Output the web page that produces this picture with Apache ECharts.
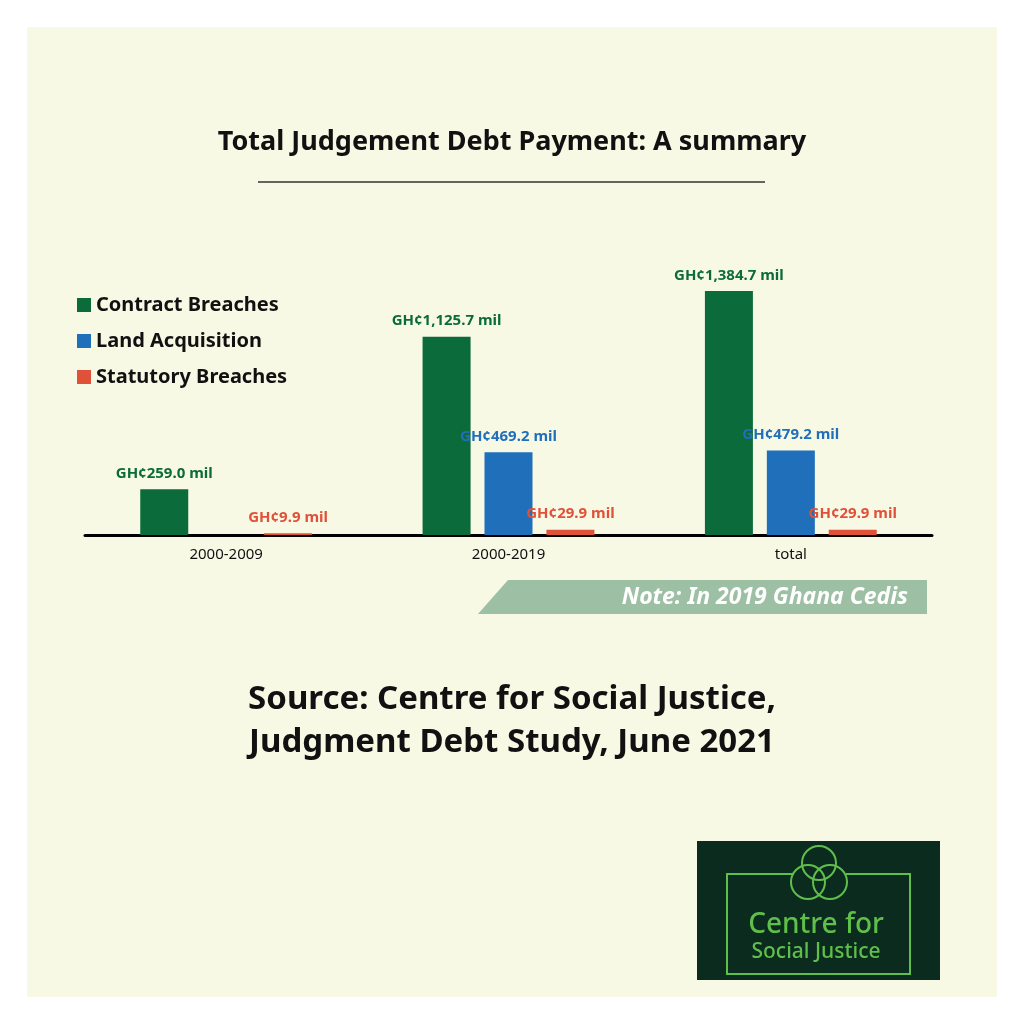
<!DOCTYPE html>
<html><head><meta charset="utf-8">
<script src="https://cdn.jsdelivr.net/npm/echarts@6/dist/echarts.min.js"></script>
<style>html,body{margin:0;padding:0;background:#fff}#c{width:1024px;height:1024px}</style>
</head><body><div id="c"></div>
<script>
const categories = ['2000-2009', '2000-2019', 'total'];
const contractBreaches = [259.0, 1125.7, 1384.7];
const landAcquisition = [null, 469.2, 479.2];
const statutoryBreaches = [9.9, 29.9, 29.9];
const seriesNames = ['Contract Breaches', 'Land Acquisition', 'Statutory Breaches'];
const colors = ['#0b6b3a', '#1f6fba', '#e0513a'];

const chart = echarts.init(document.getElementById('c'));
const FONT = '"Noto Sans", sans-serif';
function fmt(v){
  const s = v.toFixed(1).replace(/\B(?=(\d{3})+(?!\d))/g, ',');
  return 'GH¢' + s + ' mil';
}
function mk(name, data, color){
  return {
    name, type: 'bar', data, barWidth: 48, barGap: '29%',
    itemStyle: { color },
    label: { show: true, position: 'top', distance: 8, color, fontFamily: FONT, fontWeight: 'bold', fontSize: 15,
      formatter: p => p.value == null ? '' : fmt(p.value) }
  };
}
chart.setOption({
  backgroundColor: '#ffffff',
  animation: false,
  title: { text: 'Total Judgement Debt Payment: A summary', left: 'center', top: 124,
    textStyle: { fontFamily: FONT, fontWeight: 'bold', fontSize: 27, color: '#111' } },
  legend: { orient: 'vertical', left: 72, top: 290, itemWidth: 14, itemHeight: 14, itemGap: 16, icon: 'rect',
    textStyle: { fontFamily: FONT, fontWeight: 'bold', fontSize: 20, color: '#111' }, data: seriesNames },
  grid: { left: 85, right: 92, top: 291, bottom: 489 },
  xAxis: { type: 'category', data: categories,
    axisLine: { lineStyle: { color: '#000', width: 3 } }, axisTick: { show: false },
    axisLabel: { fontFamily: FONT, fontSize: 15, color: '#111', margin: 12 } },
  yAxis: { type: 'value', min: 0, max: 1384.7, show: false, splitLine: { show: false } },
  series: [ mk(seriesNames[0], contractBreaches, colors[0]), mk(seriesNames[1], landAcquisition, colors[1]), mk(seriesNames[2], statutoryBreaches, colors[2]) ],
  graphic: [
    { type: 'rect', z: -10, shape: { x: 27, y: 27, width: 970, height: 970 }, style: { fill: '#f8f9e5' } },
    { type: 'line', shape: { x1: 258, y1: 182, x2: 765, y2: 182 }, style: { stroke: '#333', lineWidth: 1.5 } },
    { type: 'polygon', shape: { points: [[508, 580], [927, 580], [927, 614], [478, 614]] }, style: { fill: '#9dbfa3' } },
    { type: 'text', style: { x: 908, y: 597, text: 'Note: In 2019 Ghana Cedis', align: 'right', verticalAlign: 'middle',
      fill: '#fff', font: 'italic bold 23px "Noto Sans", sans-serif' } },
    { type: 'text', style: { x: 512, y: 700, text: 'Source: Centre for Social Justice,', align: 'center', verticalAlign: 'middle',
      fill: '#111', font: 'bold 33px "Noto Sans", sans-serif' } },
    { type: 'text', style: { x: 512, y: 743, text: 'Judgment Debt Study, June 2021', align: 'center', verticalAlign: 'middle',
      fill: '#111', font: 'bold 33px "Noto Sans", sans-serif' } },
    { type: 'rect', shape: { x: 697, y: 841, width: 243, height: 139 }, style: { fill: '#0c2b1f' } },
    { type: 'polyline', shape: { points: [[794, 874], [727, 874], [727, 974], [910, 974], [910, 874], [846, 874]] }, style: { stroke: '#5fbf4a', fill: null, lineWidth: 2 } },
    { type: 'circle', shape: { cx: 819, cy: 863, r: 17 }, style: { stroke: '#5fbf4a', fill: null, lineWidth: 2 } },
    { type: 'circle', shape: { cx: 808, cy: 882, r: 17 }, style: { stroke: '#5fbf4a', fill: null, lineWidth: 2 } },
    { type: 'circle', shape: { cx: 830, cy: 882, r: 17 }, style: { stroke: '#5fbf4a', fill: null, lineWidth: 2 } },
    { type: 'text', style: { x: 816, y: 925, text: 'Centre for', align: 'center', verticalAlign: 'middle', fill: '#5fbf4a', font: '500 28px "Noto Sans", sans-serif' } },
    { type: 'text', style: { x: 816, y: 952, text: 'Social Justice', align: 'center', verticalAlign: 'middle', fill: '#5fbf4a', font: '500 21px "Noto Sans", sans-serif' } }
  ]
});
</script></body></html>
